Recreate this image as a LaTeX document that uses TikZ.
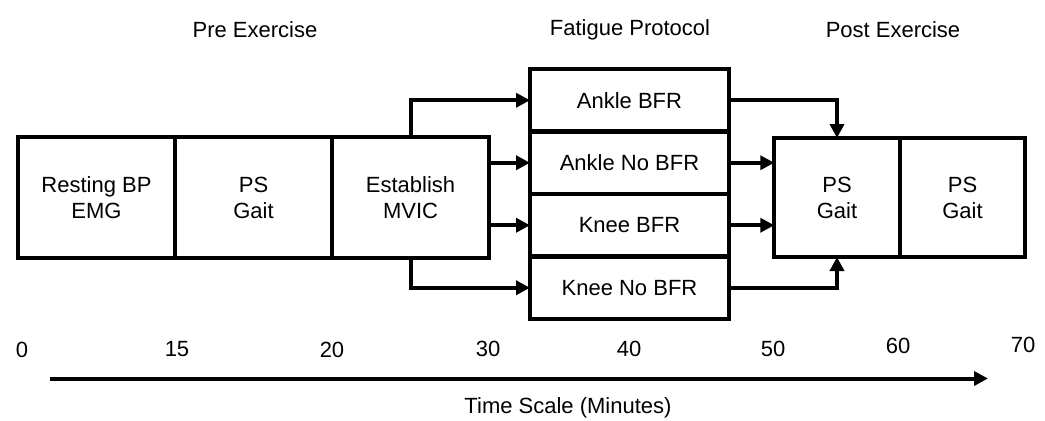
\documentclass[tikz,border=0pt]{standalone}
\usepackage{fontspec}
\setmainfont{Liberation Sans}
\usetikzlibrary{arrows.meta, positioning}

\begin{document}
\begin{tikzpicture}[
    x=0.5pt, y=-0.5pt,
    stage/.style={
        rectangle, draw, line width=2.2pt,
        minimum width=78.5pt, minimum height=60.5pt,
        inner sep=0pt, outer sep=0pt,
        align=center, font=\fontsize{11}{13}\selectfont
    },
    arm/.style={
        rectangle, draw, line width=2.2pt,
        minimum width=99.5pt, minimum height=31.25pt,
        inner sep=0pt, outer sep=0pt,
        align=center, font=\fontsize{11}{13}\selectfont
    },
    post/.style={
        stage, minimum width=62.75pt, minimum height=59.5pt
    },
    lbl/.style={font=\fontsize{11}{13}\selectfont, inner sep=0pt},
    >={Triangle[length=7pt, width=7pt]}, line width=2pt
]
\useasboundingbox (0,0) rectangle (1045,420);

% phase titles
\node[lbl] (pre)     at (255, 30) {Pre Exercise};
\node[lbl] (fatigue) at (630, 30) {Fatigue Protocol};
\node[lbl] (postex)  at (893, 30) {Post Exercise};

% pre exercise
\node[stage] (rest)   at (96.5, 197.5)  {Resting BP\\EMG};
\node[stage] (psgait) at (253.5, 197.5) {PS\\Gait};
\node[stage] (mvic)   at (410.5, 197.5) {Establish\\MVIC};

% fatigue protocol
\node[arm] (ankbfr)    at (629.5, 100.25) {Ankle BFR};
\node[arm] (anknobfr)  at (629.5, 162.75) {Ankle No BFR};
\node[arm] (kneebfr)   at (629.5, 225.25) {Knee BFR};
\node[arm] (kneenobfr) at (629.5, 287.75) {Knee No BFR};

% post exercise
\node[post] (post1) at (837, 197.5)   {PS\\Gait};
\node[post] (post2) at (962.5, 197.5) {PS\\Gait};

\draw[->] (mvic.north) |- (ankbfr.west);
\draw[->] (mvic.east |- anknobfr) -- (anknobfr.west);
\draw[->] (mvic.east |- kneebfr) -- (kneebfr.west);
\draw[->] (mvic.south) |- (kneenobfr.west);

\draw[->] (ankbfr.east) -| (post1.north);
\draw[->] (anknobfr.east) -- (anknobfr.east -| post1.west);
\draw[->] (kneebfr.east) -- (kneebfr.east -| post1.west);
\draw[->] (kneenobfr.east) -| (post1.south);

% time axis
\foreach \t/\x/\y in {0/22/350, 15/177/349, 20/332/350, 30/488/349,
                      40/629/349, 50/773/349, 60/898/346, 70/1023/345}
    \node[lbl] (tick\t) at (\x, \y) {\t};

\coordinate (tstart) at (50, 378.5);
\coordinate (tend)   at (988, 378.5);
\draw[->] (tstart) -- (tend);
\node[lbl] (tscale) at (568, 408) {Time Scale (Minutes)};

\end{tikzpicture}
\end{document}
